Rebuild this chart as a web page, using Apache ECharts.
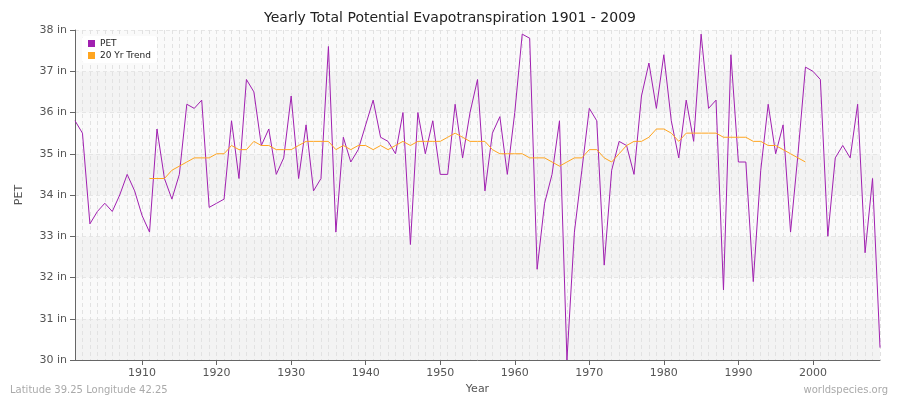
<!DOCTYPE html>
<html><head><meta charset="utf-8">
<script src="https://cdn.jsdelivr.net/npm/echarts@6/dist/echarts.min.js"></script>
<style>html,body{margin:0;padding:0;background:#fff}#c{width:900px;height:400px}</style>
</head><body><div id="c"></div>
<script>
const startYear = 1901;
const pet = [35.8,35.5,33.3,33.6,33.8,33.6,34.0,34.5,34.1,33.5,33.1,35.6,34.4,33.9,34.5,36.2,36.1,36.3,33.7,33.8,33.9,35.8,34.4,36.8,36.5,35.2,35.6,34.5,34.9,36.4,34.4,35.7,34.1,34.4,37.6,33.1,35.4,34.8,35.1,35.7,36.3,35.4,35.3,35.0,36.0,32.8,36.0,35.0,35.8,34.5,34.5,36.2,34.9,36.0,36.8,34.1,35.5,35.9,34.5,36.0,37.9,37.8,32.2,33.8,34.5,35.8,30.0,33.1,34.6,36.1,35.8,32.3,34.6,35.3,35.2,34.5,36.4,37.2,36.1,37.4,35.8,34.9,36.3,35.3,37.9,36.1,36.3,31.7,37.4,34.8,34.8,31.9,34.6,36.2,35.0,35.7,33.1,35.0,37.1,37.0,36.8,33.0,34.9,35.2,34.9,36.2,32.6,34.4,30.3];
const trendStart = 1911;
const trend = [34.4,34.4,34.4,34.6,34.7,34.8,34.9,34.9,34.9,35.0,35.0,35.2,35.1,35.1,35.3,35.2,35.2,35.1,35.1,35.1,35.2,35.3,35.3,35.3,35.3,35.1,35.2,35.1,35.2,35.2,35.1,35.2,35.1,35.2,35.3,35.2,35.3,35.3,35.3,35.3,35.4,35.5,35.4,35.3,35.3,35.3,35.1,35.0,35.0,35.0,35.0,34.9,34.9,34.9,34.8,34.7,34.8,34.9,34.9,35.1,35.1,34.9,34.8,35.0,35.2,35.3,35.3,35.4,35.6,35.6,35.5,35.3,35.5,35.5,35.5,35.5,35.5,35.4,35.4,35.4,35.4,35.3,35.3,35.2,35.2,35.1,35.0,34.9,34.8];
const xTicks = [1910,1920,1930,1940,1950,1960,1970,1980,1990,2000];
const yTicks = [30,31,32,33,34,35,36,37,38];

const petData = pet.map((v,i)=>[startYear+i,v]);
const trendData = trend.map((v,i)=>[trendStart+i,v]);
const F = 'DejaVu Sans';
const chart = echarts.init(document.getElementById('c'));
chart.setOption({
  animation:false,
  textStyle:{fontFamily:F},
  title:{text:'Yearly Total Potential Evapotranspiration 1901 - 2009',left:'center',top:6,textStyle:{fontFamily:F,fontSize:14,fontWeight:'normal',color:'#222'}},
  legend:{left:82,top:36,orient:'vertical',itemWidth:7,itemHeight:7,itemGap:3,icon:'rect',backgroundColor:'#fff',padding:[3,6],borderRadius:3,
    textStyle:{fontSize:9,color:'#222'},data:['PET','20 Yr Trend']},
  grid:{left:75,right:20,top:30,bottom:40},
  xAxis:[{type:'value',min:1901,max:2009,name:'Year',nameLocation:'middle',nameGap:22,nameTextStyle:{fontSize:11,color:'#555'},
    axisLine:{lineStyle:{color:'#666'}},axisTick:{customValues:xTicks,length:5,lineStyle:{color:'#666'}},
    axisLabel:{customValues:xTicks,formatter:v=>String(v),color:'#555',fontSize:11},splitLine:{show:false}},
   {type:'value',min:1901,max:2009,interval:1,show:true,position:'bottom',axisLine:{show:false},axisTick:{show:false},axisLabel:{show:false},
    splitLine:{show:true,lineStyle:{color:'#e2e2e2',type:[4,3],width:1}}}],
  yAxis:{type:'value',min:30,max:38,interval:1,name:'PET',nameLocation:'middle',nameGap:50,nameTextStyle:{fontSize:11,color:'#555'},
    axisLine:{show:true,lineStyle:{color:'#666'}},axisTick:{show:true,length:5,lineStyle:{color:'#666'}},
    axisLabel:{formatter:v=>v+' in',color:'#555',fontSize:11},
    splitLine:{show:true,lineStyle:{color:'#e6e6e6',type:[4,3]}},
    splitArea:{show:true,areaStyle:{color:['#f3f3f3','#fafafa']}}},
  series:[
    {name:'PET',type:'line',data:petData,showSymbol:false,symbol:'none',lineStyle:{color:'#a020b0',width:1},itemStyle:{color:'#a020b0'}},
    {name:'20 Yr Trend',type:'line',data:trendData,showSymbol:false,symbol:'none',lineStyle:{color:'#ffa520',width:1},itemStyle:{color:'#ffa520'}}
  ],
  graphic:[
    {type:'text',left:10,top:385,style:{text:'Latitude 39.25 Longitude 42.25',fontSize:10,fill:'#aaa',fontFamily:F}},
    {type:'text',right:12,top:385,style:{text:'worldspecies.org',fontSize:10,fill:'#aaa',fontFamily:F}}
  ]
});
</script></body></html>
